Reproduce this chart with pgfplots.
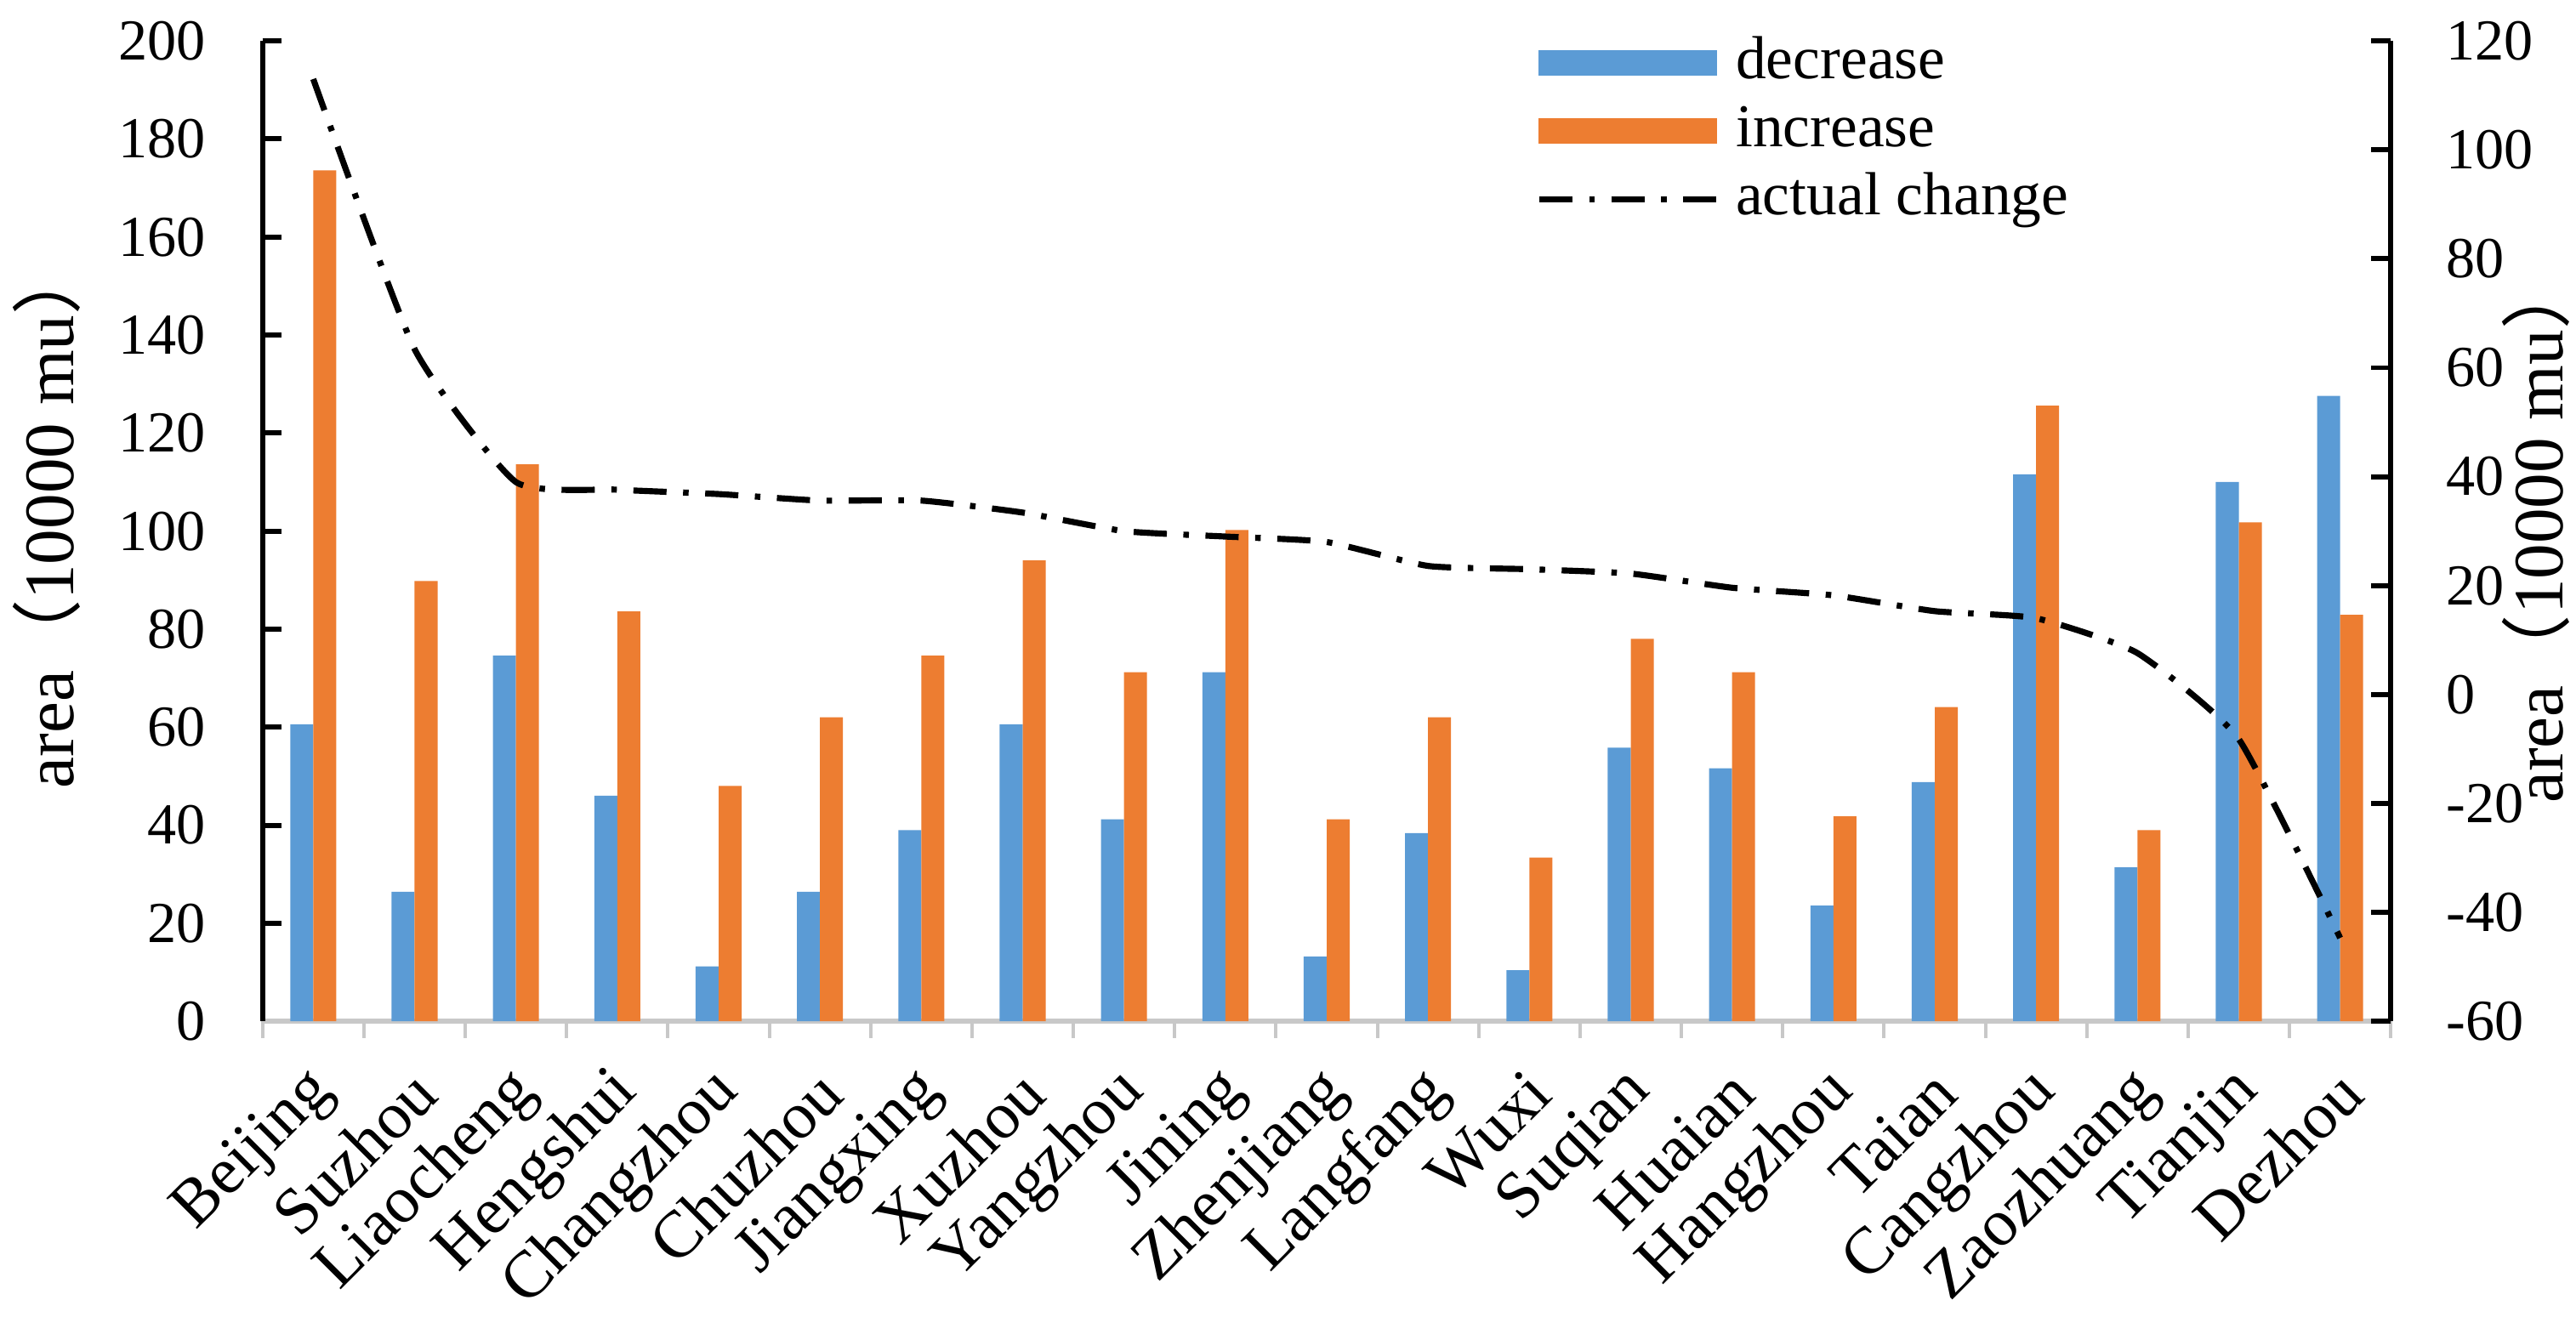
\documentclass[border=0pt]{standalone}
\usepackage{fontspec}
\setmainfont{Liberation Serif}
\newfontfamily\cjk{Noto Sans CJK SC}
\usepackage{pgfplots}
\pgfplotsset{compat=1.18}
\usepackage{pgfplotstable}
\definecolor{cblue}{RGB}{91,155,213}
\definecolor{corange}{RGB}{237,125,49}
\definecolor{axgray}{RGB}{200,200,200}

\pgfplotstableread{
idx name dec inc chg
0 Beijing 60.6 173.6 113.0
1 Suzhou 26.4 89.8 63.4
2 Liaocheng 74.6 113.6 39.0
3 Hengshui 46.0 83.6 37.6
4 Changzhou 11.2 48.0 36.8
5 Chuzhou 26.4 62.0 35.6
6 Jiangxing 39.0 74.6 35.6
7 Xuzhou 60.6 94.0 33.4
8 Yangzhou 41.2 71.2 30.0
9 Jining 71.2 100.2 29.0
10 Zhenjiang 13.2 41.2 28.0
11 Langfang 38.4 62.0 23.6
12 Wuxi 10.4 33.4 23.0
13 Suqian 55.8 78.0 22.2
14 Huaian 51.6 71.2 19.6
15 Hangzhou 23.6 41.8 18.2
16 Taian 48.8 64.1 15.3
17 Cangzhou 111.6 125.6 14.0
18 Zaozhuang 31.4 39.0 7.6
19 Tianjin 110.0 101.8 -8.2
20 Dezhou 127.6 82.9 -44.7
}\data

\begin{document}
\begin{tikzpicture}
\useasboundingbox (-47.5pt,-53.4pt) rectangle (418.5pt,184.8pt);
\begin{axis}[
  at={(0pt,0pt)}, anchor=south west,
  scale only axis, width=385pt, height=177.4pt,
  xmin=-0.5, xmax=20.5, ymin=0, ymax=200,
  axis y line*=left, axis x line*=bottom,
  x axis line style={axgray, line width=0.9pt},
  y axis line style={black, line width=0.9pt},
  tick align=inside,
  xtick={0,...,20},
  xticklabels={Beijing,Suzhou,Liaocheng,Hengshui,Changzhou,Chuzhou,Jiangxing,Xuzhou,Yangzhou,Jining,Zhenjiang,Langfang,Wuxi,Suqian,Huaian,Hangzhou,Taian,Cangzhou,Zaozhuang,Tianjin,Dezhou},
  major x tick style={draw=none},
  minor xtick={-0.5,0.5,...,20.5},
  minor x tick style={axgray, line width=0.6pt},
  minor tick length=3pt,
  major tick length=3.4pt,
  ytick={0,20,...,200},
  yticklabels={0,20,40,60,80,100,120,140,160,180,200},
  major y tick style={black, line width=0.9pt},
  xticklabel style={font=\fontsize{12}{14}\selectfont, inner sep=0pt, yshift=-7.5pt, xshift=2pt, rotate=45, anchor=east},
  yticklabel style={font=\fontsize{10.5}{12}\selectfont, xshift=-6.8pt},
  ylabel={area{\cjk （}10000 mu{\cjk ）}},
  ylabel style={at={(axis description cs:-0.1015,0.515)}, anchor=center, inner sep=0pt, font=\fontsize{12.8}{15}\selectfont},
  ybar=0pt, bar width=0.227,
]
\addplot[fill=cblue, draw=none, bar shift=-0.1135] table[x=idx, y=dec] {\data};
\addplot[fill=corange, draw=none, bar shift=0.1135] table[x=idx, y=inc] {\data};
\end{axis}
\begin{axis}[
  at={(0pt,0pt)}, anchor=south west,
  scale only axis, width=385pt, height=177.4pt,
  xmin=-0.5, xmax=20.5, ymin=-60, ymax=120,
  axis y line*=right, axis x line=none,
  y axis line style={black, line width=0.9pt},
  tick align=inside,
  major tick length=3.6pt,
  ytick={-60,-40,...,120},
  yticklabels={-60,-40,-20,0,20,40,60,80,100,120},
  major y tick style={black, line width=0.9pt},
  yticklabel style={font=\fontsize{10.5}{12}\selectfont, anchor=west, xshift=6.5pt},
  ylabel={area{\cjk （}10000 mu{\cjk ）}},
  ylabel style={at={(axis description cs:1.068,0.5)}, anchor=center, inner sep=0pt, font=\fontsize{12.8}{15}\selectfont},
  legend style={at={(axis description cs:0.598,1.013)}, anchor=north west, draw=none, fill=none,
    inner sep=0pt, row sep=0pt, font=\fontsize{11}{13}\selectfont,
    nodes={inner xsep=3pt, inner ysep=0.9pt, text height=8pt, text depth=2.5pt}},
  legend cell align=left,
]
\addlegendimage{legend image code/.code={\fill[cblue] (0pt,-2.1pt) rectangle (32pt,2.1pt);}}
\addlegendentry{decrease}
\addlegendimage{legend image code/.code={\fill[corange] (0pt,-2.1pt) rectangle (32pt,2.1pt);}}
\addlegendentry{increase}
\addplot[black, line width=1.1pt, smooth, tension=0.3, no marks, dash pattern=on 6pt off 3pt on 1pt off 3pt,
  legend image code/.code={\draw[black, line width=1.1pt, dash pattern=on 6pt off 3pt on 1pt off 3pt] (0pt,0pt) -- (32pt,0pt);}]
  table[x=idx, y=chg] {\data};
\addlegendentry{actual change}
\end{axis}
\end{tikzpicture}
\end{document}
